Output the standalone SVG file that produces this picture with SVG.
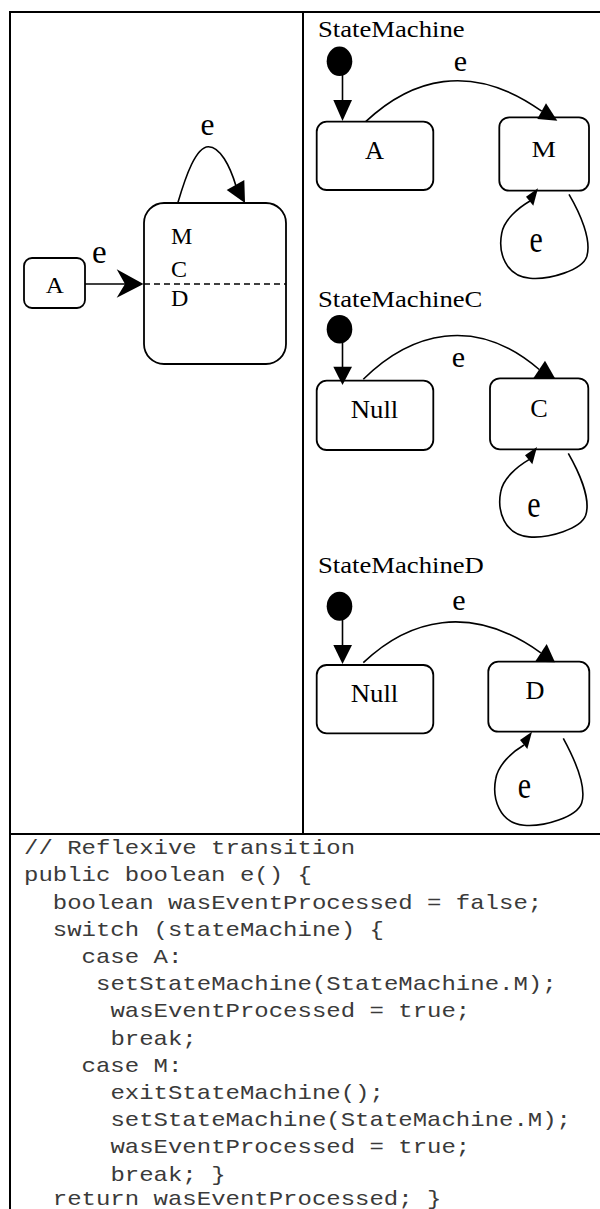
<svg xmlns="http://www.w3.org/2000/svg" width="600" height="1209" viewBox="0 0 600 1209">
  <style>
    .frame { fill: none; stroke: #000; stroke-width: 2; }
    .state { fill: #fff; stroke: #000; stroke-width: 1.8; }
    .edge { fill: none; stroke: #000; stroke-width: 1.6; }
    .head { fill: #000; stroke: none; }
    .lbl { font-family: "Liberation Serif", "Times New Roman", serif; font-size: 25px; fill: #000; }
    .ttl { font-family: "Liberation Serif", "Times New Roman", serif; font-size: 23px; fill: #000; }
    .ev { font-family: "Liberation Serif", "Times New Roman", serif; font-size: 30px; fill: #000; }
    .mid { text-anchor: middle; }
    .code { font-family: "Liberation Mono", "Courier New", monospace; font-size: 20px; fill: #3a3a3a; }
  </style>

  <rect width="600" height="1209" fill="#fff"/>

  <!-- table frame -->
  <g id="frame" class="frame">
    <line x1="10" y1="12" x2="600" y2="12"/>
    <line x1="10" y1="11" x2="10" y2="1209"/>
    <line x1="303" y1="12" x2="303" y2="834"/>
    <line x1="10" y1="834" x2="600" y2="834"/>
  </g>

  <!-- left: composite view -->
  <g id="left-A">
    <rect class="state" x="24" y="258" width="61" height="50" rx="8"/>
    <text class="lbl mid" transform="translate(54.7,293) scale(1,0.92)">A</text>
  </g>
  <g id="left-MCD">
    <rect class="state" x="144" y="203" width="142" height="161" rx="20"/>
    <line x1="144" y1="284" x2="286" y2="284" stroke="#000" stroke-width="1.6" stroke-dasharray="6,4"/>
    <text class="lbl" transform="translate(171,244) scale(0.96,0.96)">M</text>
    <text class="lbl" transform="translate(171,277) scale(0.96,0.96)">C</text>
    <text class="lbl" transform="translate(171,306) scale(0.96,0.96)">D</text>
  </g>

  <!-- top right: StateMachine -->
  <g id="sm-title">
    <text class="ttl" transform="translate(318,36.7) scale(1.16,1)">StateMachine</text>
  </g>
  <g id="sm-init">
    <ellipse cx="339.5" cy="61.3" rx="12.8" ry="14.7" fill="#000"/>
  </g>
  <g id="sm-A">
    <rect class="state" x="316.7" y="121.7" width="116.6" height="68.3" rx="10"/>
    <text class="lbl mid" transform="translate(374.5,159.3) scale(1.05,1)">A</text>
  </g>
  <g id="sm-M">
    <rect class="state" x="499.3" y="117.3" width="89.7" height="73.4" rx="10"/>
    <text class="lbl mid" transform="translate(543.8,156.7) scale(1.1,0.92)">M</text>
  </g>

  <!-- middle right: StateMachineC -->
  <g id="smc-title">
    <text class="ttl" transform="translate(318,306.5) scale(1.16,1)">StateMachineC</text>
  </g>
  <g id="smc-init">
    <ellipse cx="339.5" cy="329.2" rx="12.8" ry="14.3" fill="#000"/>
  </g>
  <g id="smc-Null">
    <rect class="state" x="316.7" y="380.7" width="116.6" height="69.3" rx="10"/>
    <text class="lbl mid" transform="translate(374.5,418.3) scale(1.07,1)">Null</text>
  </g>
  <g id="smc-C">
    <rect class="state" x="490" y="378.3" width="98.3" height="71" rx="10"/>
    <text class="lbl mid" transform="translate(539,416.7) scale(1.05,1)">C</text>
  </g>

  <!-- bottom right: StateMachineD -->
  <g id="smd-title">
    <text class="ttl" transform="translate(318,573.3) scale(1.16,1)">StateMachineD</text>
  </g>
  <g id="smd-init">
    <ellipse cx="339.5" cy="606.2" rx="12.8" ry="14.5" fill="#000"/>
  </g>
  <g id="smd-Null">
    <rect class="state" x="316.7" y="665" width="116.6" height="68.3" rx="10"/>
    <text class="lbl mid" transform="translate(374.5,701.7) scale(1.07,1)">Null</text>
  </g>
  <g id="smd-D">
    <rect class="state" x="488.3" y="661.7" width="101" height="70" rx="10"/>
    <text class="lbl mid" transform="translate(535,699.3) scale(1.05,1)">D</text>
  </g>

  <!-- transitions -->
  <g id="connectors">
    <!-- left: A to composite, and reflexive loop -->
    <line class="edge" x1="85" y1="284" x2="126" y2="284"/>
    <polygon class="head" points="143.5,284 116.7,269.3 125,284 116.7,297.7"/>
    <text class="ev mid" transform="translate(99.3,263) scale(1.1,1.1)">e</text>
    <path class="edge" d="M177.7,203.3 C186,175 196,147 208.3,146.7 C220,146.5 230,166 236,186"/>
    <polygon class="head" points="226.7,190 244.3,180 245,203"/>
    <text class="ev mid" transform="translate(207.5,135) scale(1.05,1.05)">e</text>

    <!-- StateMachine -->
    <line class="edge" x1="342.5" y1="74" x2="342.5" y2="101"/>
    <polygon class="head" points="333.3,100 352,100 342.5,121"/>
    <path class="edge" d="M365.7,121.7 C410,80 470,60 541.7,111.2"/>
    <polygon class="head" points="546,103.3 537.3,119 557.3,120.7"/>
    <text class="ev mid" x="460.3" y="71">e</text>
    <path class="edge" d="M569,194.3 C580,213 592,240 586.7,256.7 C582,270 550,280 530,278.3 C505,276 498,252 501.7,233.3 C504,220 518,208 530,201"/>
    <polygon class="head" points="538,188.3 526,196.7 533.3,205.7"/>
    <text class="ev mid" transform="translate(536.2,251.7) scale(1,1.25)">e</text>

    <!-- StateMachineC -->
    <line class="edge" x1="342.5" y1="342" x2="342.5" y2="368"/>
    <polygon class="head" points="333.3,366.7 352,366.7 342.5,385"/>
    <path class="edge" d="M363.3,379.3 C410,333 475,314 539.2,369.5"/>
    <polygon class="head" points="545,360.7 533.3,378.3 555,378.3"/>
    <text class="ev mid" x="458.3" y="366.7">e</text>
    <path class="edge" d="M568.3,453.3 C579,472 591,499 585.7,515.3 C581,528.6 549,538.6 529,536.9 C504,534.6 497,510.6 500.7,491.9 C503,478.6 517,466.6 529,459.6"/>
    <polygon class="head" points="537,446.9 525,455.3 532.3,464.3"/>
    <text class="ev mid" transform="translate(533.8,516.7) scale(1,1.25)">e</text>

    <!-- StateMachineD -->
    <line class="edge" x1="342.5" y1="619" x2="342.5" y2="646"/>
    <polygon class="head" points="333.3,645 352,645 342.5,664"/>
    <path class="edge" d="M363.3,662.7 C408,620 470,602 540.8,652.8"/>
    <polygon class="head" points="546.7,644 535,661.7 555,662.3"/>
    <text class="ev mid" x="459" y="610">e</text>
    <path class="edge" d="M563.3,738.3 C574,758 587,786 581.7,803 C577,817 544,827 524,825.3 C499,823 492,798 495.7,779 C498,765 512,752 524,745"/>
    <polygon class="head" points="532,731.7 520,740 527.3,749"/>
    <text class="ev mid" transform="translate(524.3,798.3) scale(1,1.25)">e</text>
  </g>

  <!-- generated code -->
  <g id="code" class="code" transform="scale(1.2,1)">
    <text x="20" y="854.3">// Reflexive transition</text>
    <text x="20" y="881.5">public boolean e() {</text>
    <text x="44" y="908.7">boolean wasEventProcessed = false;</text>
    <text x="44" y="935.9">switch (stateMachine) {</text>
    <text x="68" y="963.1">case A:</text>
    <text x="80" y="990.3">setStateMachine(StateMachine.M);</text>
    <text x="92" y="1017.5">wasEventProcessed = true;</text>
    <text x="92" y="1044.7">break;</text>
    <text x="68" y="1071.9">case M:</text>
    <text x="92" y="1099.1">exitStateMachine();</text>
    <text x="92" y="1126.3">setStateMachine(StateMachine.M);</text>
    <text x="92" y="1153.5">wasEventProcessed = true;</text>
    <text x="92" y="1180.7">break; }</text>
    <text x="44" y="1205">return wasEventProcessed; }</text>
  </g>
</svg>
